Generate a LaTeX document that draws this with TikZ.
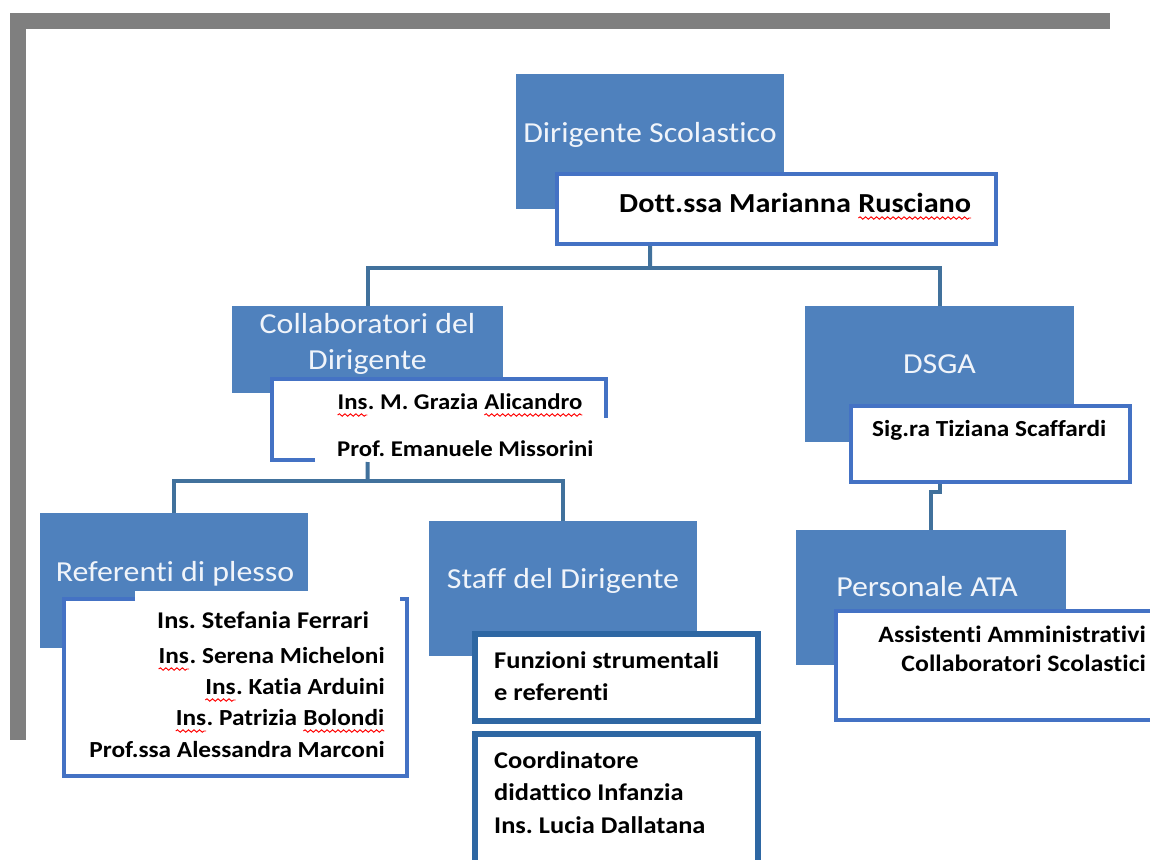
\documentclass[tikz,border=0pt]{standalone}
\usepackage{fontspec}
\setmainfont{Carlito}[Ligatures={NoCommon}]
\usepackage{graphicx}
\usetikzlibrary{decorations.pathmorphing}
\frenchspacing
\definecolor{boxblue}{HTML}{4F81BD}
\definecolor{thinline}{HTML}{4472C4}
\definecolor{thickline}{HTML}{2E67A3}
\definecolor{connline}{HTML}{41719C}
\definecolor{framegray}{HTML}{7F7F7F}
\definecolor{titletext}{HTML}{F0F4FA}
\newcommand\sx[1]{\scalebox{1.1}[1]{#1}}
\newcommand\sq[1]{\tikz[baseline=(sqw.base)]{\node[inner sep=0pt,outer sep=0pt,anchor=base](sqw){#1};\draw[red,line width=0.9pt,decorate,decoration={snake,segment length=5pt,amplitude=1.2pt}]([yshift=-6pt]sqw.base west)--([yshift=-6pt]sqw.base east);}}
\tikzset{
  bluebox/.style={fill=boxblue,draw=none,anchor=north west,inner sep=0pt},
  whitebox/.style={fill=white,draw=thinline,line width=4pt,anchor=north west,inner sep=0pt},
  thickbox/.style={fill=white,draw=thickline,line width=6pt,anchor=north west,inner sep=0pt},
  thinborder/.style={draw=thinline,line width=4pt},
  conn/.style={draw=connline,line width=4pt},
  titlelbl/.style={text=titletext,font=\fontsize{29}{35}\selectfont,inner sep=0pt,anchor=base},
  namelbl/.style={text=black,font=\bfseries\fontsize{#1}{28}\selectfont,inner sep=0pt},
  namelbl/.default=23
}
\begin{document}
\frenchspacing
\begin{tikzpicture}[x=1pt,y=-1pt]
\useasboundingbox (0,0) rectangle (1150,859);
\fill[white] (0,0) rectangle (1150,859);
% gray frame
\fill[framegray] (10,13) rectangle (1110,29);
\fill[framegray] (10,13) rectangle (26,740);

% blue boxes
\node[bluebox,minimum width=268pt,minimum height=135pt] (dir) at (516,74) {};
\node[bluebox,minimum width=271pt,minimum height=87pt] (coll) at (232,306) {};
\node[bluebox,minimum width=269pt,minimum height=136pt] (dsga) at (805,306) {};
\node[bluebox,minimum width=268pt,minimum height=135pt] (ref) at (40,513) {};
\node[bluebox,minimum width=268pt,minimum height=135pt] (staff) at (429,521) {};
\node[bluebox,minimum width=270pt,minimum height=135pt] (pers) at (796,530) {};

% white boxes
\node[whitebox,minimum width=439pt,minimum height=70pt] (dott) at (555,172) {};
\node[fill=white,anchor=north west,inner sep=0pt,outer sep=0pt,minimum width=338pt,minimum height=85pt] (collw) at (270,377) {};
\draw[thinborder] (315,460) -- (272,460) -- (272,379) -- (606,379) -- (606,418);
\node[whitebox,minimum width=279pt,minimum height=76pt] (sig) at (849,404) {};
\node[fill=white,anchor=north west,inner sep=0pt,outer sep=0pt,minimum width=347pt,minimum height=181pt] (refw) at (62,597) {};
\fill[white] (135,591) rectangle (400,601);
\draw[thinborder] (135,599) -- (64,599) -- (64,776) -- (407,776) -- (407,599) -- (400,599);
\node[thickbox,minimum width=283pt,minimum height=87pt] (funz) at (472,631) {};
\node[thickbox,minimum width=283pt,minimum height=150pt] (coord) at (472,731) {};
\node[whitebox,minimum width=320pt,minimum height=109pt] (ataw) at (834,609) {};

% connectors
\coordinate (bus1) at (650,268);
\draw[conn] (dir.south |- dott.south) -- (bus1);
\draw[conn] (coll.north) |- (bus1) -| (dsga.north);
\coordinate (bus2) at (367.5,481);
\draw[conn] (coll.south |- collw.south) -- (bus2);
\draw[conn] (ref.north) |- (bus2) -| (staff.north);
\draw[conn] (dsga.south |- sig.south) -- ++(0,8) -| (pers.north);

% titles
\node[titlelbl] (tdir) at (650,142) {\sx{Dirigente Scolastico}};
\node[titlelbl] (tcoll1) at (367.5,333) {\sx{Collaboratori del}};
\node[titlelbl] (tcoll2) at (367.5,369) {\sx{Dirigente}};
\node[titlelbl] (tdsga) at (939.5,373) {\sx{DSGA}};
\node[titlelbl] (tref) at (175,581) {\sx{Referenti di plesso}};
\node[titlelbl] (tstaff) at (563,588) {\sx{Staff del Dirigente}};
\node[titlelbl] (tpers) at (927,596) {\sx{Personale ATA}};

% names
\node[namelbl=27.5,anchor=base west] (ndott) at (619,212) {\sx{Dott.ssa Marianna \sq{Rusciano}}};
\node[namelbl=22.5,anchor=base west] (nc1) at (337,409) {\sx{\sq{Ins}. M. Grazia \sq{Alicandro}}};
\node[namelbl=22.5,anchor=base west] (nc2) at (337,456) {\sx{Prof. Emanuele Missorini}};
\node[namelbl=23,anchor=base west] (nsig) at (872,436) {\sx{Sig.ra Tiziana Scaffardi}};
\node[namelbl=24,anchor=base west] (nr1) at (157,628) {\sx{Ins. Stefania Ferrari}};
\node[namelbl=23,anchor=base east] (nr2) at (385,663) {\sx{\sq{Ins}. Serena Micheloni}};
\node[namelbl=23,anchor=base east] (nr3) at (385,694) {\sx{\sq{Ins}. Katia Arduini}};
\node[namelbl=23,anchor=base east] (nr4) at (385,725) {\sx{\sq{Ins}. Patrizia \sq{Bolondi}}};
\node[namelbl=23,anchor=base east] (nr5) at (385,757) {\sx{Prof.ssa Alessandra Marconi}};
\node[namelbl=24,anchor=base west] (nf1) at (494,668) {\sx{Funzioni strumentali}};
\node[namelbl=24,anchor=base west] (nf2) at (494,700) {\sx{e referenti}};
\node[namelbl=24,anchor=base west] (nk1) at (494,768) {\sx{Coordinatore}};
\node[namelbl=24,anchor=base west] (nk2) at (494,800) {\sx{didattico Infanzia}};
\node[namelbl=24,anchor=base west] (nk3) at (494,833) {\sx{Ins. Lucia Dallatana}};
\node[namelbl=23.5,anchor=base east] (na1) at (1146,642) {\sx{Assistenti Amministrativi}};
\node[namelbl=23.5,anchor=base east] (na2) at (1146,671) {\sx{Collaboratori Scolastici}};
\end{tikzpicture}
\end{document}
